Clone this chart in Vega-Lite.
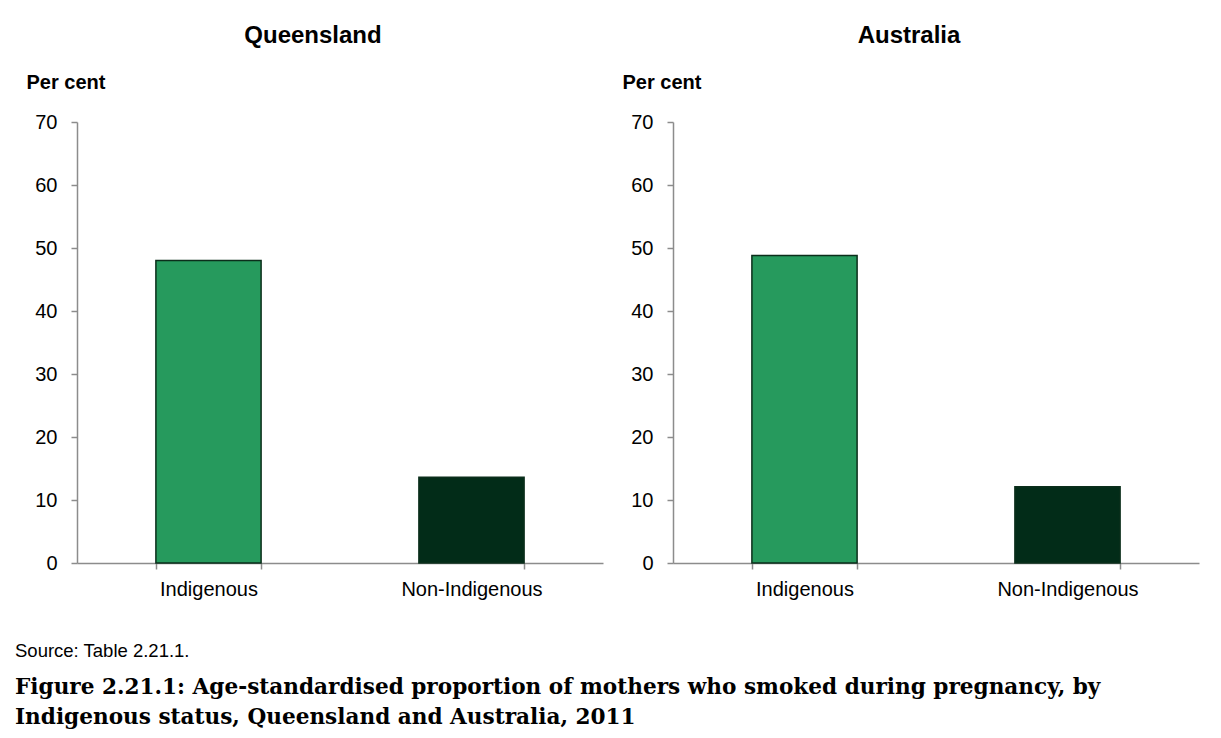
{
  "$schema": "https://vega.github.io/schema/vega-lite/v6.json",
  "background": "white",
  "padding": {"left": 15, "top": 24, "right": 21, "bottom": 0},
  "datasets": {
    "smoking": [
      {"region": "Queensland", "status": "Indigenous", "value": 48.0},
      {"region": "Queensland", "status": "Non-Indigenous", "value": 13.6},
      {"region": "Australia", "status": "Indigenous", "value": 48.8},
      {"region": "Australia", "status": "Non-Indigenous", "value": 12.1}
    ]
  },
  "title": {
    "text": ["Figure 2.21.1: Age-standardised proportion of mothers who smoked during pregnancy, by", "Indigenous status, Queensland and Australia, 2011"],
    "orient": "bottom",
    "anchor": "start",
    "frame": "bounds",
    "dx": 0,
    "offset": 16,
    "font": "DejaVu Serif",
    "fontSize": 21.6,
    "fontWeight": "bold",
    "lineHeight": 30,
    "color": "#000000"
  },
  "vconcat": [
    {
      "title": {
        "text": "Source: Table 2.21.1.",
        "orient": "bottom",
        "anchor": "start",
        "frame": "bounds",
        "dx": -11,
        "offset": 43,
        "font": "Liberation Sans",
        "fontSize": 18.5,
        "fontWeight": "normal",
        "color": "#000000"
      },
      "hconcat": [
        {
          "width": 526,
          "height": 441,
          "title": {"text": "Queensland", "dx": -27},
          "data": {"name": "smoking"},
          "transform": [{"filter": "datum.region === 'Queensland'"}],
          "mark": {"type": "bar", "stroke": "#0b2e1b", "strokeWidth": 1.5},
          "encoding": {
            "x": {"field": "status", "type": "nominal", "sort": ["Indigenous", "Non-Indigenous"],
                  "scale": {"paddingInner": 0.6, "paddingOuter": 0.3}, "title": null},
            "y": {"field": "value", "type": "quantitative", "scale": {"domain": [0, 70]},
                  "axis": {"values": [0, 10, 20, 30, 40, 50, 60, 70]}, "title": "Per cent"},
            "color": {"field": "status", "type": "nominal",
                      "scale": {"domain": ["Indigenous", "Non-Indigenous"], "range": ["#269a5d", "#022c18"]},
                      "legend": null}
          }
        },
        {
          "width": 526,
          "height": 441,
          "title": {"text": "Australia", "dx": -27},
          "data": {"name": "smoking"},
          "transform": [{"filter": "datum.region === 'Australia'"}],
          "mark": {"type": "bar", "stroke": "#0b2e1b", "strokeWidth": 1.5},
          "encoding": {
            "x": {"field": "status", "type": "nominal", "sort": ["Indigenous", "Non-Indigenous"],
                  "scale": {"paddingInner": 0.6, "paddingOuter": 0.3}, "title": null},
            "y": {"field": "value", "type": "quantitative", "scale": {"domain": [0, 70]},
                  "axis": {"values": [0, 10, 20, 30, 40, 50, 60, 70]}, "title": "Per cent"},
            "color": {"field": "status", "type": "nominal",
                      "scale": {"domain": ["Indigenous", "Non-Indigenous"], "range": ["#269a5d", "#022c18"]},
                      "legend": null}
          }
        }
      ],
      "spacing": 19
    }
  ],
  "config": {
    "view": {"stroke": null},
    "font": "Liberation Sans",
    "title": {"font": "Liberation Sans", "fontSize": 24, "fontWeight": "bold", "color": "#000000", "anchor": "middle", "offset": 24},
    "axis": {
      "grid": false,
      "domainColor": "#8c8c8c",
      "domainWidth": 1.5,
      "tickColor": "#8c8c8c",
      "tickWidth": 1.5,
      "tickSize": 6,
      "labelFont": "Liberation Sans",
      "labelFontSize": 20,
      "labelColor": "#000000",
      "titleFont": "Liberation Sans",
      "titleFontSize": 20,
      "titleFontWeight": "bold",
      "titleColor": "#000000"
    },
    "axisX": {"labelAngle": 0, "tickBand": "extent", "labelPadding": 10},
    "axisY": {
      "labelPadding": 14,
      "titleAngle": 0,
      "titleAlign": "left",
      "titleBaseline": "middle",
      "titleX": -51,
      "titleY": -40
    }
  }
}
